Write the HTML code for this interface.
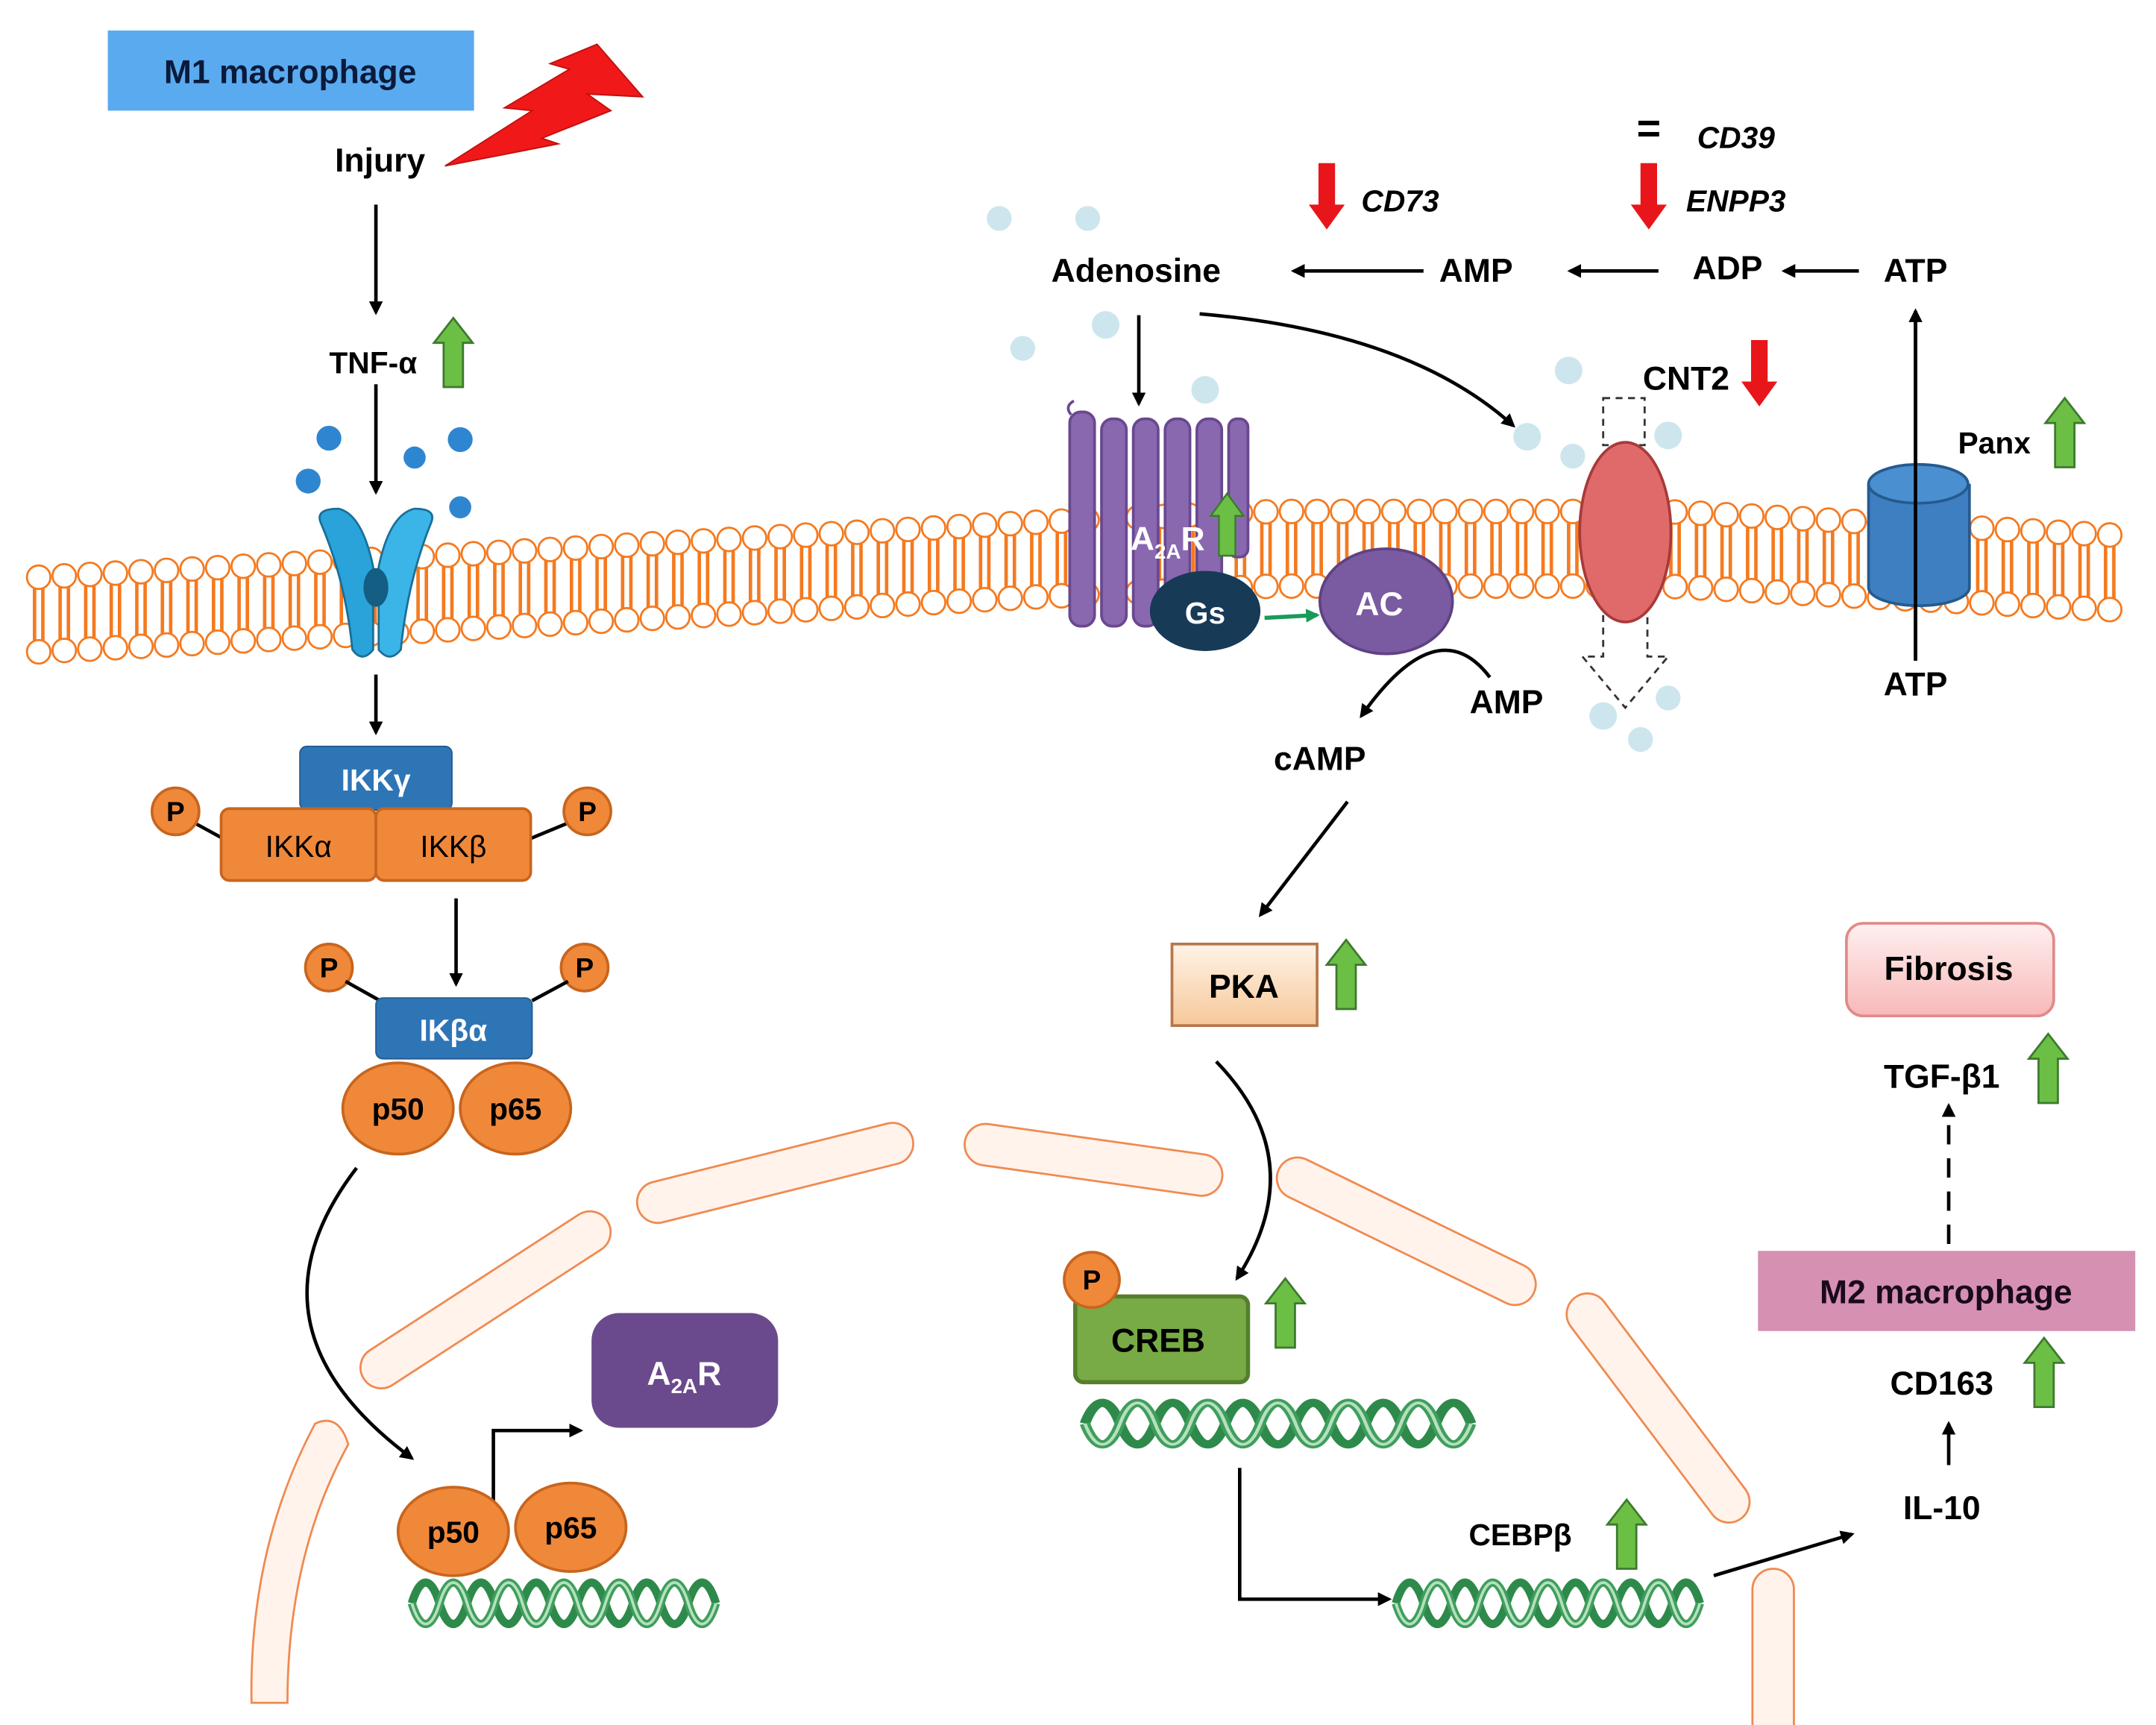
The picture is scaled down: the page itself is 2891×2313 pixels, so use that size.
<!DOCTYPE html>
<html><head><meta charset="utf-8">
<style>
html,body{margin:0;padding:0;background:#fff;}
svg{display:block;}
text{font-family:"Liberation Sans",Arial,sans-serif;font-weight:bold;}
</style></head>
<body>
<svg id="s" width="2891" height="2313" viewBox="0 0 1560 1248" xmlns="http://www.w3.org/2000/svg">
<defs>
<marker id="ah" markerWidth="10" markerHeight="10" refX="8" refY="5" orient="auto" markerUnits="userSpaceOnUse">
<path d="M0,0 L10,5 L0,10 Z" fill="#000"/></marker>
<marker id="ahg" markerWidth="10" markerHeight="10" refX="8" refY="5" orient="auto" markerUnits="userSpaceOnUse">
<path d="M0,0 L10,5 L0,10 Z" fill="#1a9a5a"/></marker>
<g id="gup"><path d="M14,0 L28,18 L21,18 L21,50 L7,50 L7,18 L0,18 Z" fill="#6cbf45" stroke="#3d7a2e" stroke-width="1.5"/></g>
<g id="rdn"><path d="M7,0 L19,0 L19,30 L26,30 L13,48 L0,30 L7,30 Z" fill="#e8151b"/></g>
<linearGradient id="pka" x1="0" y1="0" x2="0" y2="1"><stop offset="0" stop-color="#fff3e6"/><stop offset="1" stop-color="#f6c89a"/></linearGradient>
<linearGradient id="fib" x1="0" y1="0" x2="0" y2="1"><stop offset="0" stop-color="#fff0f0"/><stop offset="1" stop-color="#f8b8b8"/></linearGradient>
<g id="dna">
<path d="M0,20 C6,0 14,0 20,20 S34,40 40,20 S54,0 60,20 S74,40 80,20 S94,0 100,20 S114,40 120,20 S134,0 140,20 S154,40 160,20 S174,0 180,20 S194,40 200,20 S214,0 220,20" fill="none" stroke="#2e8a4a" stroke-width="6"/>
<path d="M0,20 C6,40 14,40 20,20 S34,0 40,20 S54,40 60,20 S74,0 80,20 S94,40 100,20 S114,0 120,20 S134,40 140,20 S154,0 160,20 S174,40 180,20 S194,0 200,20 S214,40 220,20" fill="none" stroke="#3f9e5c" stroke-width="6"/>
<path d="M0,20 C6,40 14,40 20,20 S34,0 40,20 S54,40 60,20 S74,0 80,20 S94,40 100,20 S114,0 120,20 S134,40 140,20 S154,0 160,20 S174,40 180,20 S194,0 200,20 S214,40 220,20" fill="none" stroke="#b5e0bf" stroke-width="2"/>
</g>
</defs>

<!-- membrane -->
<g id="mem"></g>

<!-- nuclear envelope segments -->
<g fill="#fff3ec" stroke="#f08a50" stroke-width="1.5">
<g transform="translate(275,990) rotate(-33)"><rect x="-14" y="-15" width="210" height="30" rx="15"/></g>
<g transform="translate(475,870) rotate(-14)"><rect x="-14" y="-15" width="205" height="30" rx="15"/></g>
<g transform="translate(712,828) rotate(8)"><rect x="-14" y="-15" width="188" height="30" rx="15"/></g>
<g transform="translate(938,852) rotate(26)"><rect x="-14" y="-15" width="205" height="30" rx="15"/></g>
<g transform="translate(1148,950) rotate(53)"><rect x="-14" y="-15" width="200" height="30" rx="15"/></g>
<rect x="1268" y="1135" width="30" height="130" rx="15"/>
<path d="M228,1030 Q180,1120 182,1232 L208,1232 Q208,1125 252,1045 Q245,1022 228,1030 Z"/>
</g>

<!-- M1 -->
<rect x="78" y="22" width="265" height="58" fill="#5aaaf0"/>
<text x="210" y="60" font-size="24" text-anchor="middle" fill="#0a1a3a">M1 macrophage</text>
<path d="M322,120 L385,80 L365,78 L412,50 L398,46 L432,32 L465,70 L425,68 L442,80 L392,100 L404,104 Z" fill="#f01818" stroke="#c01010" stroke-width="1"/>
<text x="275" y="124" font-size="24" text-anchor="middle">Injury</text>
<g stroke="#000" stroke-width="2.5" fill="none" marker-end="url(#ah)">
<line x1="272" y1="148" x2="272" y2="226"/>
<line x1="272" y1="278" x2="272" y2="356"/>
<line x1="272" y1="488" x2="272" y2="530"/>
<line x1="330" y1="650" x2="330" y2="712"/>
<path d="M258,845 Q170,960 298,1055"/>
<path d="M357,1092 L357,1035 L420,1035"/>
<line x1="1030" y1="196" x2="936" y2="196"/>
<line x1="1200" y1="196" x2="1136" y2="196"/>
<line x1="1345" y1="196" x2="1291" y2="196"/>
<line x1="824" y1="228" x2="824" y2="292"/>
<path d="M868,227 Q1020,240 1095,308"/>
<path d="M1078,490 Q1040,440 985,518"/>
<line x1="975" y1="580" x2="912" y2="662"/>
<path d="M880,768 Q950,840 895,925"/>
<path d="M897,1062 L897,1157 L1005,1157"/>
<line x1="1240" y1="1140" x2="1340" y2="1110"/>
<line x1="1410" y1="1060" x2="1410" y2="1030"/>
<line x1="1386" y1="478" x2="1386" y2="225"/>
<line x1="1410" y1="900" x2="1410" y2="800" stroke-dasharray="14,10"/>
</g>
<text x="270" y="270" font-size="22" text-anchor="middle">TNF-α</text>
<use href="#gup" transform="translate(314,230)"/>
<g fill="#2f86d0"><circle cx="238" cy="317" r="9"/><circle cx="223" cy="348" r="9"/><circle cx="300" cy="331" r="8"/><circle cx="333" cy="318" r="9"/><circle cx="333" cy="367" r="8"/></g>

<g fill="#cde6ee"><circle cx="723" cy="158" r="9"/><circle cx="787" cy="158" r="9"/><circle cx="800" cy="235" r="10"/><circle cx="740" cy="252" r="9"/><circle cx="872" cy="282" r="10"/><circle cx="1135" cy="268" r="10"/><circle cx="1105" cy="316" r="10"/><circle cx="1138" cy="330" r="9"/><circle cx="1207" cy="315" r="10"/><circle cx="1160" cy="518" r="10"/><circle cx="1187" cy="535" r="9"/><circle cx="1207" cy="505" r="9"/></g>

<!-- TNF receptor -->
<g>
<path d="M232,378 Q228,368 245,368 Q262,372 270,410 L270,470 Q262,480 255,470 Q250,420 232,378 Z" fill="#29a3da" stroke="#1a6f98" stroke-width="1.5"/>
<path d="M312,378 Q316,368 300,368 Q282,372 274,410 L274,470 Q282,480 290,470 Q295,420 312,378 Z" fill="#3bb5e8" stroke="#1a6f98" stroke-width="1.5"/>
<ellipse cx="272" cy="425" rx="9" ry="14" fill="#135e82"/>
</g>

<!-- IKK complex -->
<rect x="217" y="540" width="110" height="46" rx="5" fill="#2e75b6" stroke="#225a90"/>
<text x="272" y="572" font-size="22" text-anchor="middle" fill="#fff">IKKγ</text>
<line x1="140" y1="595" x2="162" y2="607" stroke="#000" stroke-width="2.5"/>
<line x1="412" y1="595" x2="383" y2="607" stroke="#000" stroke-width="2.5"/>
<rect x="160" y="585" width="112" height="52" rx="6" fill="#f0883a" stroke="#c8651e" stroke-width="2"/>
<rect x="272" y="585" width="112" height="52" rx="6" fill="#f0883a" stroke="#c8651e" stroke-width="2"/>
<text x="216" y="620" font-size="22" text-anchor="middle" style="font-weight:normal">IKKα</text>
<text x="328" y="620" font-size="22" text-anchor="middle" style="font-weight:normal">IKKβ</text>
<g fill="#f0883a" stroke="#c8651e" stroke-width="2"><circle cx="127" cy="587" r="17"/><circle cx="425" cy="587" r="17"/><circle cx="238" cy="700" r="17"/><circle cx="423" cy="700" r="17"/></g>
<g font-size="20" text-anchor="middle"><text x="127" y="594">P</text><text x="425" y="594">P</text><text x="238" y="707">P</text><text x="423" y="707">P</text></g>
<line x1="250" y1="710" x2="275" y2="724" stroke="#000" stroke-width="2.5"/>
<line x1="411" y1="710" x2="385" y2="724" stroke="#000" stroke-width="2.5"/>
<rect x="272" y="722" width="113" height="44" rx="5" fill="#2e75b6" stroke="#225a90"/>
<text x="328" y="753" font-size="22" text-anchor="middle" fill="#fff">IKβα</text>
<g fill="#f0883a" stroke="#c8651e" stroke-width="2"><ellipse cx="288" cy="802" rx="40" ry="33"/><ellipse cx="373" cy="802" rx="40" ry="33"/><ellipse cx="328" cy="1108" rx="40" ry="32"/><ellipse cx="413" cy="1105" rx="40" ry="32"/></g>
<g font-size="22" text-anchor="middle"><text x="288" y="810">p50</text><text x="373" y="810">p65</text><text x="328" y="1116">p50</text><text x="413" y="1113">p65</text></g>
<use href="#dna" transform="translate(298,1140)"/>
<rect x="428" y="950" width="135" height="83" rx="20" fill="#6a4a8c"/>
<text x="495" y="1002" font-size="24" text-anchor="middle" fill="#fff">A<tspan font-size="15" dy="6">2A</tspan><tspan dy="-6">R</tspan></text>

<!-- top right labels -->
<text x="822" y="204" font-size="24" text-anchor="middle">Adenosine</text>
<text x="1068" y="204" font-size="24" text-anchor="middle">AMP</text>
<text x="1250" y="202" font-size="24" text-anchor="middle">ADP</text>
<text x="1386" y="204" font-size="24" text-anchor="middle">ATP</text>
<use href="#rdn" transform="translate(947,118)"/>
<text x="985" y="153" font-size="22" font-style="italic">CD73</text>
<use href="#rdn" transform="translate(1180,118)"/>
<text x="1220" y="153" font-size="22" font-style="italic">ENPP3</text>
<text x="1193" y="103" font-size="30" text-anchor="middle">=</text>
<text x="1228" y="107" font-size="22" font-style="italic">CD39</text>

<!-- A2AR 7TM -->
<g fill="#8a68b0" stroke="#6a4890" stroke-width="2">
<rect x="774" y="298" width="18" height="155" rx="8"/><rect x="797" y="303" width="18" height="150" rx="8"/><rect x="820" y="303" width="18" height="150" rx="8"/><rect x="843" y="303" width="18" height="150" rx="8"/><rect x="866" y="303" width="18" height="150" rx="8"/><rect x="889" y="303" width="14" height="100" rx="6"/>
</g>
<path d="M775,300 q-5,-6 2,-10" fill="none" stroke="#6a4890" stroke-width="2"/>
<text x="818" y="398" font-size="24" fill="#fff">A<tspan font-size="15" dy="6">2A</tspan><tspan dy="-6">R</tspan></text>
<use href="#gup" transform="translate(876,357) scale(0.85,0.9)"/>
<ellipse cx="872" cy="442" rx="40" ry="29" fill="#173a57"/>
<text x="872" y="451" font-size="22" text-anchor="middle" fill="#fff">Gs</text>
<line x1="915" y1="447" x2="953" y2="445" stroke="#1a9a5a" stroke-width="3" marker-end="url(#ahg)"/>
<ellipse cx="1003" cy="435" rx="48" ry="38" fill="#7a5aa0" stroke="#5e4282" stroke-width="2"/>
<text x="998" y="445" font-size="24" text-anchor="middle" fill="#fff">AC</text>
<text x="1090" y="516" font-size="24" text-anchor="middle">AMP</text>
<text x="955" y="557" font-size="24" text-anchor="middle">cAMP</text>

<!-- CNT2 -->
<rect x="1160" y="288" width="30" height="34" fill="none" stroke="#333" stroke-width="1.5" stroke-dasharray="5,4"/>
<ellipse cx="1176" cy="385" rx="33" ry="65" fill="#e06a6a" stroke="#a83a3a" stroke-width="2"/>
<path d="M1160,445 L1160,475 L1145,475 L1176,512 L1207,475 L1192,475 L1192,445" fill="none" stroke="#333" stroke-width="1.5" stroke-dasharray="5,4"/>
<text x="1220" y="282" font-size="24" text-anchor="middle">CNT2</text>
<use href="#rdn" transform="translate(1260,246)"/>

<!-- Panx -->
<path d="M1352,350 L1352,425 A36,13 0 0 0 1425,425 L1425,350" fill="#3d7fc0" stroke="#255a90" stroke-width="2"/>
<ellipse cx="1388" cy="350" rx="36" ry="14" fill="#4a8fd0" stroke="#255a90" stroke-width="2"/>
<line x1="1386" y1="478" x2="1386" y2="225" stroke="#000" stroke-width="2.5"/>
<text x="1386" y="503" font-size="24" text-anchor="middle">ATP</text>
<text x="1443" y="328" font-size="22" text-anchor="middle">Panx</text>
<use href="#gup" transform="translate(1480,288)"/>

<!-- PKA -->
<rect x="848" y="683" width="105" height="59" fill="url(#pka)" stroke="#b8764a" stroke-width="2"/>
<text x="900" y="722" font-size="24" text-anchor="middle">PKA</text>
<use href="#gup" transform="translate(960,680)"/>

<!-- CREB -->
<rect x="778" y="938" width="125" height="62" rx="6" fill="#78ab46" stroke="#557f2c" stroke-width="3"/>
<circle cx="790" cy="926" r="20" fill="#f0883a" stroke="#c8651e" stroke-width="2"/>
<text x="790" y="933" font-size="20" text-anchor="middle">P</text>
<text x="838" y="978" font-size="24" text-anchor="middle">CREB</text>
<use href="#gup" transform="translate(916,925)"/>
<use href="#dna" transform="translate(785,1010) scale(1.27,1)"/>
<use href="#dna" transform="translate(1010,1140)"/>
<text x="1100" y="1118" font-size="22" text-anchor="middle">CEBPβ</text>
<use href="#gup" transform="translate(1163,1085)"/>

<text x="1405" y="1099" font-size="24" text-anchor="middle">IL-10</text>
<text x="1405" y="1009" font-size="24" text-anchor="middle">CD163</text>
<use href="#gup" transform="translate(1465,968)"/>
<rect x="1272" y="905" width="273" height="58" fill="#d590b2"/>
<text x="1408" y="943" font-size="24" text-anchor="middle" fill="#1a0a1a">M2 macrophage</text>
<text x="1405" y="787" font-size="24" text-anchor="middle">TGF-β1</text>
<use href="#gup" transform="translate(1468,748)"/>
<rect x="1336" y="668" width="150" height="67" rx="12" fill="url(#fib)" stroke="#e08a8a" stroke-width="2"/>
<text x="1410" y="709" font-size="24" text-anchor="middle">Fibrosis</text>
</svg>
<script>
(function(){
var g=document.getElementById("mem");
var px=[20,300,746,921,1205,1545],py=[418,403,378,370,370,388];
function top(x){for(var i=0;i<px.length-1;i++){if(x<=px[i+1]){var t=(x-px[i])/(px[i+1]-px[i]);return py[i]+t*(py[i+1]-py[i]);}}return py[py.length-1];}
var h="";
for(var x=28;x<=1540;x+=18.5){
 var y1=top(x),y2=y1+54;
 h+='<line x1="'+(x-3)+'" y1="'+(y1+8)+'" x2="'+(x-3)+'" y2="'+(y2-8)+'" stroke="#f47a20" stroke-width="2.5"/>';
 h+='<line x1="'+(x+3)+'" y1="'+(y1+8)+'" x2="'+(x+3)+'" y2="'+(y2-8)+'" stroke="#f47a20" stroke-width="2.5"/>';
 h+='<circle cx="'+x+'" cy="'+y1+'" r="8.5" fill="#fff" stroke="#f47a20" stroke-width="1.5"/>';
 h+='<circle cx="'+x+'" cy="'+y2+'" r="8.5" fill="#fff" stroke="#f47a20" stroke-width="1.5"/>';
}
g.innerHTML=h;
})();
</script>
</body></html>
